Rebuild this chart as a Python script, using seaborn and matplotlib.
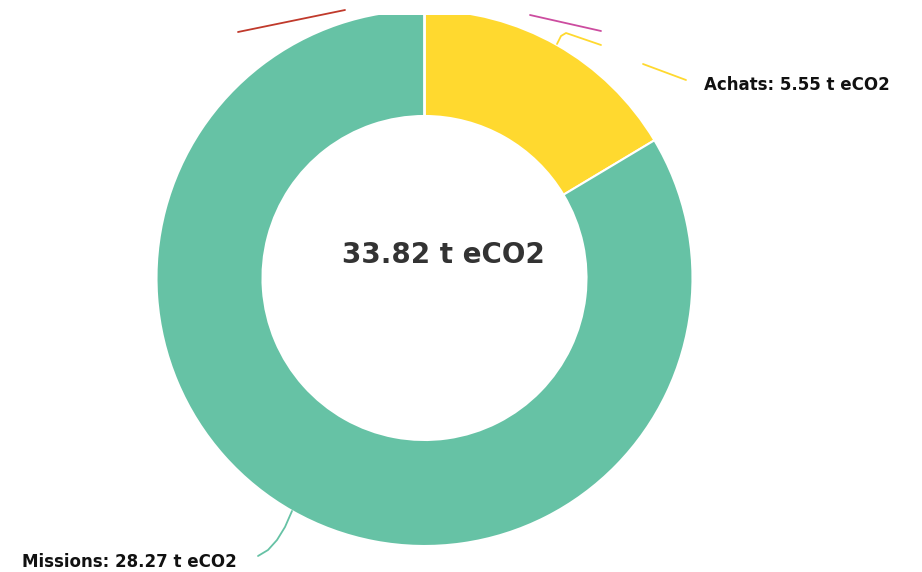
import matplotlib
matplotlib.use('Agg')
import matplotlib.pyplot as plt
import seaborn as sns

# data (t eCO2), clockwise from 12 o'clock
categories = ['Achats', 'Missions', 'Autre 1', 'Autre 2']
values = [5.55, 28.27, 0.0, 0.0]
total = 33.82

W, H = 922, 572
TOP = 15                   # chart area is cut at this pixel row
CX, CY = 424.5, 278        # donut centre in pixel coords (y down)
R_OUT, R_IN = 268, 162


def px(x, y):
    # pixel (y down) -> data (y up)
    return x, H - y


def main():
    sns.set_theme(style='white')
    plt.rcParams['font.family'] = ['DejaVu Sans']
    pal = sns.color_palette('Set2', 8)
    colors = [pal[5], pal[0], '#c0392b', '#cc4c9f']

    fig = plt.figure(figsize=(W / 100, H / 100), dpi=100)
    ax = fig.add_axes([0, 0, 1, (H - TOP) / H])

    wedges, _ = ax.pie(values, colors=colors, startangle=90, counterclock=False,
                       center=px(CX, CY), radius=R_OUT, frame=True,
                       wedgeprops=dict(width=R_OUT - R_IN, edgecolor='white', linewidth=1.5))
    for w in wedges:
        w.set_clip_on(True)   # pie turns clipping off, the original is cut at the top
    ax.set_xlim(0, W)
    ax.set_ylim(0, H - TOP)
    ax.axis('off')

    # leader lines (pixel coords)
    leaders = {
        'Achats': [[(557, 44), (561, 36), (566, 33), (601, 45)], [(643, 64), (686, 80)]],
        'Missions': [[(292, 511), (285, 527), (277, 540), (268, 550), (258, 556)]],
        'Autre 1': [[(238, 32), (345, 10)]],
        'Autre 2': [[(530, 15), (601, 31)]],
    }
    for cat, col in zip(categories, colors):
        for seg in leaders[cat]:
            xs, ys = zip(*[px(x, y) for x, y in seg])
            ax.plot(xs, ys, color=col, lw=1.3, solid_capstyle='round', clip_on=False)

    ax.text(*px(704, 90), 'Achats: %.2f t eCO2' % values[0], ha='left', va='baseline',
            fontsize=12, fontweight='bold', color='#111111')
    ax.text(*px(22, 567), 'Missions: %.2f t eCO2' % values[1], ha='left', va='baseline',
            fontsize=12, fontweight='bold', color='#111111')
    ax.text(*px(443, 263), '%.2f t eCO2' % total, ha='center', va='baseline',
            fontsize=20, fontweight='bold', color='#333333')

    fig.savefig('out.png', dpi=100)


if __name__ == '__main__':
    main()
